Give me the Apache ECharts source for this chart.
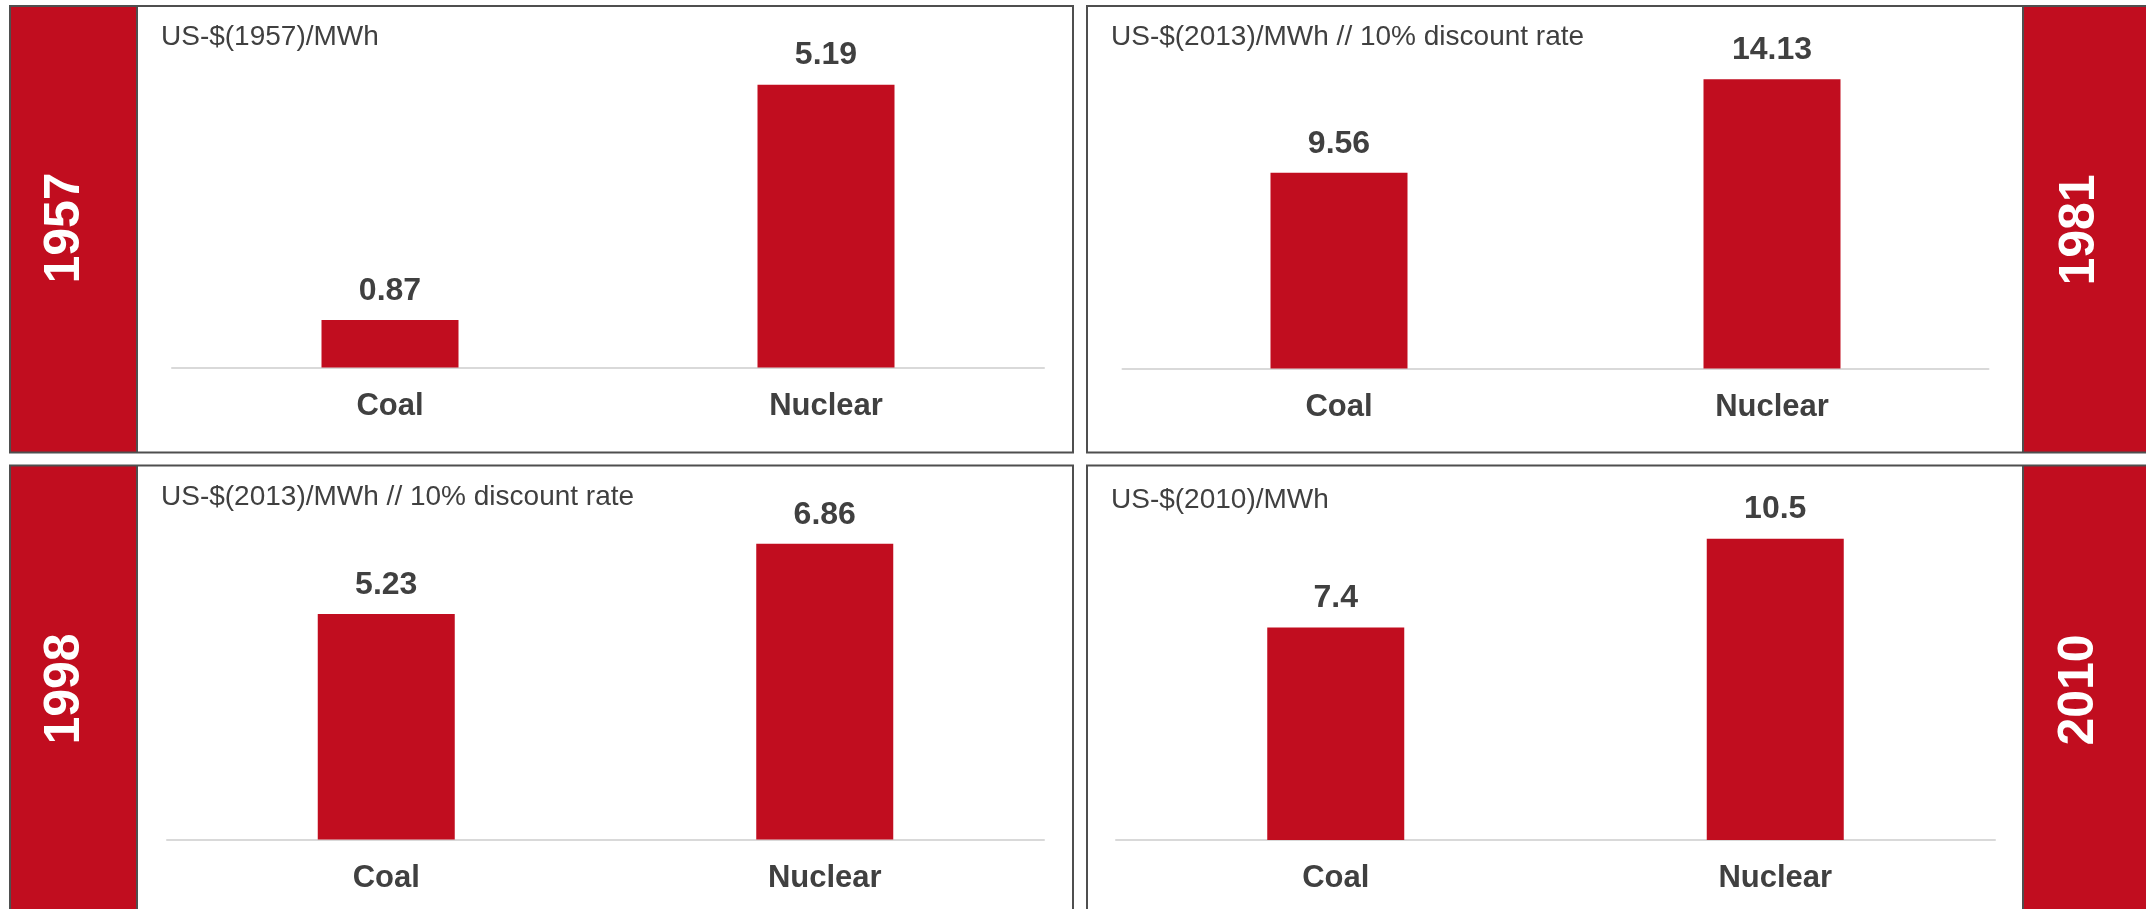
<!DOCTYPE html>
<html>
<head>
<meta charset="utf-8">
<title>Coal vs Nuclear generation cost</title>
<script src="https://cdn.jsdelivr.net/npm/echarts@6/dist/echarts.min.js"></script>
<style>
  html, body { margin: 0; padding: 0; background: #ffffff; }
  #chart { width: 2146px; height: 909px; }
</style>
</head>
<body>
<div id="chart"></div>
<script>
// Cost of electricity per technology, four study years
const categories = ['Coal', 'Nuclear'];
const years = ['1957', '1981', '1998', '2010'];
const units = [
  'US-$(1957)/MWh',
  'US-$(2013)/MWh // 10% discount rate',
  'US-$(2013)/MWh // 10% discount rate',
  'US-$(2010)/MWh'
];
const cost1957 = [0.87, 5.19];
const cost1981 = [9.56, 14.13];
const cost1998 = [5.23, 6.86];
const cost2010 = [7.4, 10.5];
const costs = [cost1957, cost1981, cost1998, cost2010];

// Panel geometry (pixels)
const RED = '#C10D1F';
const BORDER = '#4F4F4F';
const TEXT = '#404040';
const FONT = '"Liberation Sans", Arial, Helvetica, sans-serif';

const panels = [
  { box: [10, 6, 1073, 452.5], strip: [10, 137], grid: { left: 172, width: 872, top: 40.5, height: 327 }, max: 6,
    unitPos: [161, 37], yearPos: [65, 228] },
  { box: [1087, 6, 2160, 452.5], strip: [2023, 2160], grid: { left: 1122.5, width: 866, top: 41, height: 327.5 }, max: 16,
    unitPos: [1111, 37], yearPos: [2080, 230] },
  { box: [10, 465.5, 1073, 920], strip: [10, 137], grid: { left: 167, width: 877, top: 494.7, height: 344.8 }, max: 8,
    unitPos: [161, 497.5], yearPos: [65, 689] },
  { box: [1087, 465.5, 2160, 920], strip: [2023, 2160], grid: { left: 1116, width: 879, top: 495.6, height: 344.4 }, max: 12,
    unitPos: [1111, 500], yearPos: [2079, 690] }
];

const graphic = [];
panels.forEach((p, i) => {
  const [x0, y0, x1, y1] = p.box;
  // red year strip
  graphic.push({
    type: 'rect', silent: true, z: 0,
    shape: { x: p.strip[0], y: y0, width: p.strip[1] - p.strip[0], height: y1 - y0 },
    style: { fill: RED }
  });
  // panel frame
  graphic.push({
    type: 'rect', silent: true, z: 1,
    shape: { x: x0, y: y0, width: x1 - x0, height: y1 - y0 },
    style: { fill: null, stroke: BORDER, lineWidth: 2 }
  });
  // divider between strip and plot
  const dx = p.strip[0] === x0 ? p.strip[1] : p.strip[0];
  graphic.push({
    type: 'line', silent: true, z: 1,
    shape: { x1: dx, y1: y0, x2: dx, y2: y1 },
    style: { stroke: BORDER, lineWidth: 2 }
  });
  // year, reading bottom to top
  graphic.push({
    type: 'text', silent: true, z: 2,
    x: p.yearPos[0], y: p.yearPos[1], rotation: Math.PI / 2,
    style: {
      text: years[i], fill: '#ffffff', font: 'bold 50px ' + FONT,
      align: 'center', verticalAlign: 'middle'
    }
  });
  // unit caption
  graphic.push({
    type: 'text', silent: true, z: 2,
    x: p.unitPos[0], y: p.unitPos[1],
    style: {
      text: units[i], fill: TEXT, font: '28px ' + FONT,
      align: 'left', verticalAlign: 'middle'
    }
  });
});

const option = {
  animation: false,
  backgroundColor: '#ffffff',
  grid: panels.map(p => Object.assign({ containLabel: false }, p.grid)),
  xAxis: panels.map((p, i) => ({
    type: 'category', gridIndex: i, data: categories,
    axisLine: { show: true, lineStyle: { color: '#D9D9D9', width: 2 } },
    axisTick: { show: false },
    axisLabel: { color: TEXT, fontSize: 31, fontWeight: 'bold', fontFamily: FONT, margin: 23 }
  })),
  yAxis: panels.map((p, i) => ({
    type: 'value', gridIndex: i, min: 0, max: p.max,
    show: false, splitLine: { show: false }
  })),
  series: costs.map((vals, i) => ({
    type: 'bar', xAxisIndex: i, yAxisIndex: i, data: vals,
    barWidth: 137,
    itemStyle: { color: RED },
    label: {
      show: true, position: 'top', distance: 13,
      color: TEXT, fontSize: 32, fontWeight: 'bold', fontFamily: FONT
    }
  })),
  graphic: graphic
};

const chart = echarts.init(document.getElementById('chart'), null, { renderer: 'canvas' });
chart.setOption(option);
</script>
</body>
</html>
